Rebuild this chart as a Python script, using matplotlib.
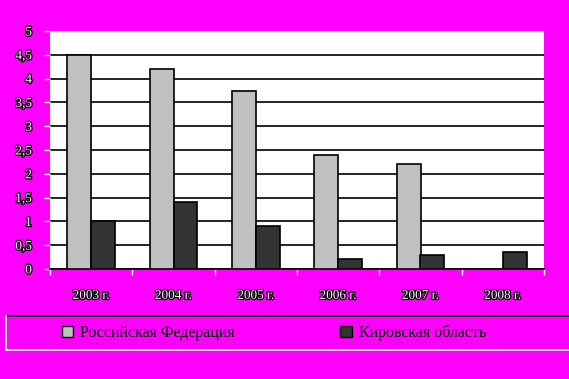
import matplotlib
matplotlib.use("Agg")
import matplotlib.pyplot as plt
import matplotlib.patheffects as pe
from matplotlib.lines import Line2D
from matplotlib.patches import Patch
import numpy as np

years = ["2003 г.", "2004 г.", "2005 г.", "2006 г.", "2007 г.", "2008 г."]
rf_values = [4.5, 4.2, 3.75, 2.4, 2.2, 0.0]
kirov_values = [1.0, 1.4, 0.9, 0.22, 0.3, 0.35]
series_names = ["Российская Федерация", "Кировская область"]

MAGENTA = "#ff00ff"
outline = [pe.withStroke(linewidth=1.8, foreground="black")]

fig = plt.figure(figsize=(5.69, 3.79), dpi=100, facecolor=MAGENTA)
ax = fig.add_axes([50 / 569, 1 - 269 / 379, 494 / 569, 238 / 379])
ax.set_facecolor("white")

x = np.arange(len(years))
w = 0.29
ax.bar(x - w / 2, rf_values, w, color="#c0c0c0", edgecolor="black", linewidth=1.2, zorder=3)
ax.bar(x + w / 2, kirov_values, w, color="#333333", edgecolor="black", linewidth=1.2, zorder=3)

ax.set_ylim(0, 5)
ax.set_xlim(-0.5, len(years) - 0.5)
ax.set_yticks(np.arange(0, 5.01, 0.5))
ax.set_yticklabels(["0", "0,5", "1", "1,5", "2", "2,5", "3", "3,5", "4", "4,5", "5"])
ax.yaxis.grid(True, color="black", linewidth=1.2, zorder=0)
ax.set_axisbelow(True)

ax.set_xticks(x)
ax.set_xticklabels(years)
ax.set_xticks(np.arange(-0.5, len(years)), minor=True)
ax.tick_params(axis="x", which="major", length=0, pad=15)
ax.tick_params(axis="x", which="minor", length=4, color="white", width=1)
ax.tick_params(axis="y", length=4, color="white", width=1, pad=9)

for lab in ax.get_xticklabels() + ax.get_yticklabels():
    lab.set_family("Liberation Serif")
    lab.set_fontsize(9.5)
    lab.set_color("white")
    lab.set_path_effects(outline)

fig.canvas.draw()
ax.yaxis.get_gridlines()[-1].set_visible(False)

for side in ["top", "right", "left"]:
    ax.spines[side].set_visible(False)
ax.spines["bottom"].set_color("black")
ax.spines["bottom"].set_linewidth(1.2)

# legend box: black top edge, white left and bottom edges
y_top, y_bot, x_left = 1 - 316 / 379, 1 - 350 / 379, 6 / 569
fig.add_artist(Line2D([x_left, 1], [y_top, y_top], color="black", lw=1.3, transform=fig.transFigure))
fig.add_artist(Line2D([x_left, 1], [y_bot, y_bot], color="white", lw=1.3, transform=fig.transFigure))
fig.add_artist(Line2D([x_left, x_left], [y_bot, y_top], color="white", lw=1.3, transform=fig.transFigure))

handles = [Patch(facecolor="#c0c0c0", edgecolor="black"),
           Patch(facecolor="#333333", edgecolor="black")]
fig.legend(handles, series_names, loc="center", ncol=2,
           bbox_to_anchor=(274 / 569, 1 - 333 / 379), frameon=False,
           prop={"family": "Liberation Serif", "size": 11.5},
           columnspacing=6.6, handlelength=0.7, handleheight=0.7, handletextpad=0.45)

fig.savefig("out.png", dpi=100, facecolor=MAGENTA)
